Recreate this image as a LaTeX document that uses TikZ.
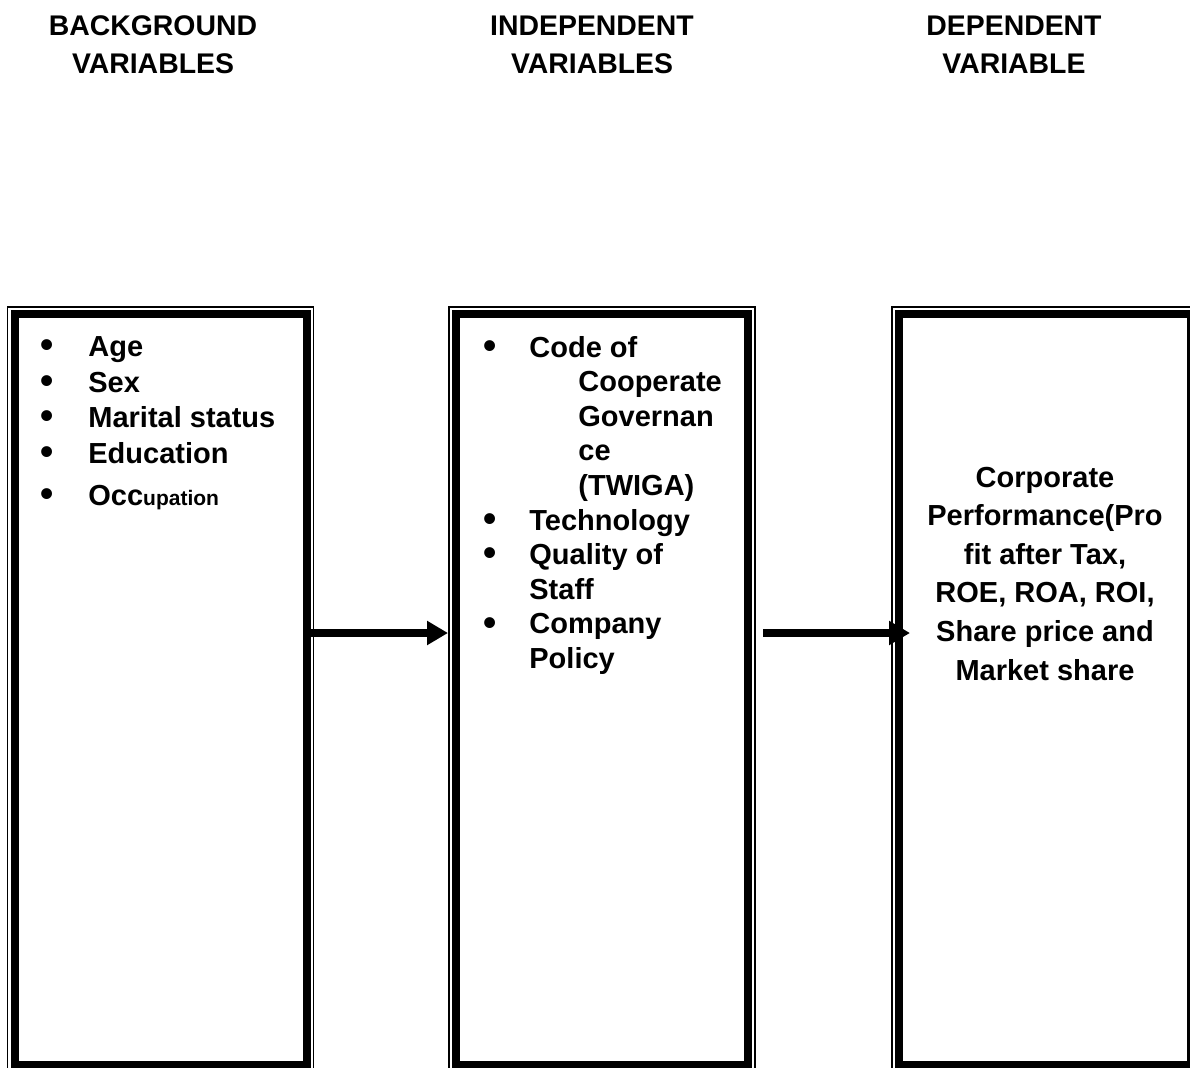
\documentclass[tikz,border=0pt]{standalone}
\usepackage{graphicx}
\usepackage{fontspec}
\setmainfont{Liberation Sans}
\usetikzlibrary{arrows.meta}

\newcommand{\bitem}[2][24pt]{\makebox[#1][l]{\raisebox{-0.6pt}{\scalebox{1.3}{\textbullet}}}#2}

\begin{document}
\begin{tikzpicture}[x=0.5pt, y=-0.5pt,
    every node/.style={font=\bfseries\fontsize{14.5}{19}\selectfont, inner sep=0pt},
    headtext/.style={align=center, anchor=base, font=\bfseries\fontsize{14.2}{19}\selectfont},
    varbox/.style={draw, line width=4pt, outer sep=0pt, minimum width=146pt, minimum height=375.5pt},
    outerline/.style={line width=0.8pt},
    flow/.style={line width=4pt, -{Triangle[length=10.5pt, width=11.5pt]}}]
    \clip (0,0) rectangle (1190,1067);
    % headings (base = last line)
    \node[headtext] (bghead) at (153,73) {BACKGROUND\\VARIABLES};
    \node[headtext] (indhead) at (592,73) {INDEPENDENT\\VARIABLES};
    \node[headtext] (dephead) at (1014,73) {DEPENDENT\\VARIABLE};

    \node[varbox] (bg) at (160.5,689.5) {};
    \node[varbox] (ind) at (602,689.5) {};
    \node[varbox] (dep) at (1045,689.5) {};
    \foreach \b in {bg,ind,dep}
        \draw[outerline] ([xshift=-3.5pt,yshift=3.5pt]\b.north west) rectangle ([xshift=3.5pt,yshift=-3.5pt]\b.south east);

    \node[align=left, anchor=base west, font=\bfseries\fontsize{14.5}{17.75}\selectfont] (bglist) at (40,505) {
        \bitem{Age}\\
        \bitem{Sex}\\
        \bitem{Marital status}\\
        \bitem{Education}\\[3.25pt]
        \bitem{Occ{\fontsize{10.5}{12}\selectfont upation}}};
    \node[align=left, anchor=base west, font=\bfseries\fontsize{14.5}{17.3}\selectfont] (indlist) at (483,668.5) {
        \bitem[23pt]{Code of}\\
        \hspace*{47.5pt}Cooperate\\
        \hspace*{47.5pt}Governan\\
        \hspace*{47.5pt}ce\\
        \hspace*{47.5pt}(TWIGA)\\
        \bitem[23pt]{Technology}\\
        \bitem[23pt]{Quality of}\\
        \hspace*{23pt}Staff\\
        \bitem[23pt]{Company}\\
        \hspace*{23pt}Policy};
    \node[align=center, anchor=base, font=\bfseries\fontsize{14.5}{19.3}\selectfont] (deptext) at (1045,680) {
        Corporate\\
        Performance(Pro\\
        fit after Tax,\\
        ROE, ROA, ROI,\\
        Share price and\\
        Market share};

    \draw[flow, shorten >=4pt] ([yshift=28.25pt]bg.east) -- ([yshift=28.25pt]ind.west);
    \draw[flow, shorten <=7.5pt, shorten >=-5.5pt] ([yshift=28.25pt]ind.east) -- ([yshift=28.25pt]dep.west);
\end{tikzpicture}
\end{document}
